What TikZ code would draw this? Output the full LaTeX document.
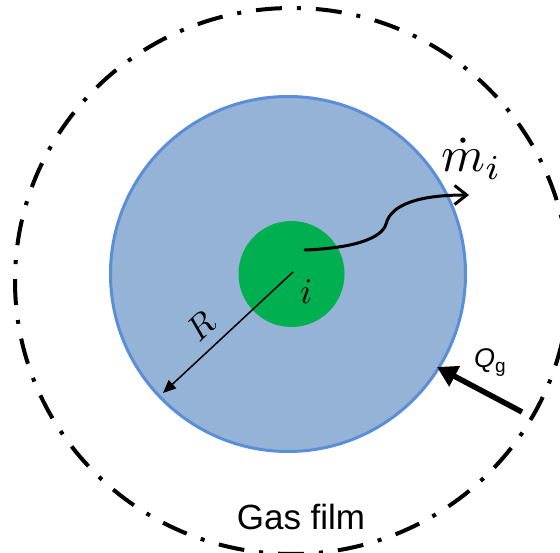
\documentclass[tikz,border=0pt]{standalone}
\usepackage{fontspec}
\newfontfamily\arial{Liberation Sans}
\usetikzlibrary{arrows.meta}
\definecolor{dropfill}{HTML}{95B3D7}
\definecolor{dropedge}{HTML}{5A8ED6}
\definecolor{corefill}{HTML}{00B050}
\tikzset{
  filmline/.style={line width=4pt, dash pattern=on 26pt off 15pt on 4pt off 15pt},
  radiusarrow/.style={line width=1.5pt, -{Triangle[length=13pt,width=11pt]}},
  heatarrow/.style={line width=5.5pt, -{Triangle[length=20pt,width=22pt]}},
  massarrow/.style={line width=3pt, line cap=round, -{Straight Barb[length=12pt,width=19pt]}}
}
\begin{document}
\begin{tikzpicture}[x=1pt,y=-1pt]
\useasboundingbox (0,0) rectangle (560,553);
\clip (0,0) rectangle (560,553);
% droplet
\filldraw[fill=dropfill, draw=dropedge, line width=3pt] (288,274) circle[radius=177.5];
% core
\fill[corefill] (291.5,274) circle[radius=53];
% gas film boundary
\draw[filmline] (292,281) ellipse[x radius=277, y radius=273];
% coordinates
\coordinate (rs) at (293,272);
\coordinate (re) at (163,393);
\coordinate (ws) at (305,250);
\coordinate (we) at (469,195);
\coordinate (qs) at (522,412);
\coordinate (qe) at (437,367);
% connectors
\draw[radiusarrow] (rs) -- (re);
\draw[heatarrow] (qs) -- (qe);
\draw[massarrow] (ws) .. controls (355,248) and (382,238) .. (386,224)
  .. controls (391,204) and (420,195) .. (we);
% labels
\node[anchor=base west, inner sep=0] (mlab) at (441,172) {\scalebox{5}{$\dot{m}_i$}};
\node[rotate=44, inner sep=0] (rlab) at (201,326) {\scalebox{3.4}{$R$}};
\node[inner sep=0] (ilab) at (306,292) {\scalebox{3.6}{$i$}};
\node[anchor=base west, inner sep=0] (qlab) at (474,368) {\arial\fontsize{27}{31}\selectfont\itshape Q\upshape\fontsize{19}{22}\selectfont\raisebox{-5pt}{g}};
\node[anchor=base, inner sep=0] (gas) at (301,529) {\arial\fontsize{35}{40}\selectfont Gas film};
\end{tikzpicture}
\end{document}
